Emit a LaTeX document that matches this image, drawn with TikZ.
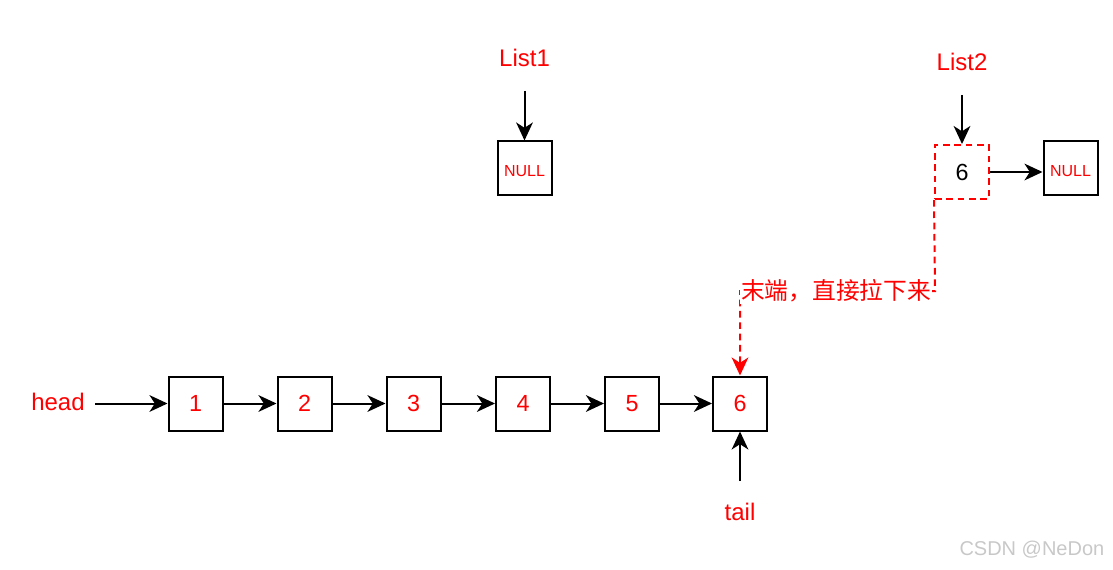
\documentclass[tikz,border=0pt]{standalone}
\usepackage{fontspec}
\setmainfont{Liberation Sans}
\newfontfamily\cjk{Noto Sans CJK SC}
\usetikzlibrary{arrows.meta}
\definecolor{myred}{RGB}{255,0,0}
\definecolor{wm}{RGB}{200,200,200}
\begin{document}
\begin{tikzpicture}[x=0.75pt,y=-0.75pt,
  cell/.style={draw=black,line width=1.5pt,minimum size=40.5pt,inner sep=0pt,text=myred,font=\fontsize{17.5}{20}\selectfont},
  nullcell/.style={cell,font=\fontsize{12}{14}\selectfont},
  dcell/.style={draw=myred,dashed,dash pattern=on 5pt off 3.5pt,line width=1.5pt,minimum size=40.5pt,inner sep=0pt,text=black,font=\fontsize{17.5}{20}\selectfont},
  lbl/.style={text=myred,font=\fontsize{18}{20}\selectfont,inner sep=1pt},
  arr/.style={line width=1.5pt,-{Stealth[length=13.5pt,width=12.5pt,inset=4pt]}},
  darr/.style={draw=myred,line width=1.5pt,dash pattern=on 5pt off 3.5pt,-{Stealth[length=13.5pt,width=12.5pt,inset=4pt]}}]
\useasboundingbox (0,0) rectangle (1113,570);
% main list
\node[cell] (n1) at (195.5,403.5) {1};
\node[cell] (n2) at (304.5,403.5) {2};
\node[cell] (n3) at (413.5,403.5) {3};
\node[cell] (n4) at (523,403.5) {4};
\node[cell] (n5) at (632,403.5) {5};
\node[cell] (n6) at (740,403.5) {6};
\foreach \a/\b in {n1/n2,n2/n3,n3/n4,n4/n5,n5/n6}
  \draw[arr] (\a) -- (\b);
\node[lbl] (head) at (58,402) {head};
\coordinate (hs) at (95,403.5);
\draw[arr] (hs) -- (n1.west);
\node[lbl] (tail) at (740,512) {tail};
\coordinate (ts) at (740,481);
\draw[arr] (ts) -- (n6.south);
% List1
\node[lbl] (l1) at (524.5,58) {List1};
\node[nullcell] (null1) at (524.5,168.5) {\raisebox{-5.8pt}[0pt][0pt]{NULL}};
\coordinate (l1s) at (524.5,91);
\draw[arr] (l1s) -- (null1.north);
% List2
\node[lbl] (l2) at (962,62) {List2};
\node[dcell] (m6) at (962,172) {6};
\node[nullcell] (null2) at (1070.5,168.5) {\raisebox{-5.8pt}[0pt][0pt]{NULL}};
\coordinate (l2s) at (962,95);
\draw[arr] (l2s) -- (m6.north);
\draw[arr] (m6.east) -- (m6.east -| null2.west);
% dashed connector
\coordinate (c1) at (935,291);
\coordinate (c2) at (740,291);
\draw[darr] (m6.south west) -- (c1) -- (c2) -- (n6.north);
\node[fill=white,text=myred,font=\cjk\fontsize{17.8}{20}\selectfont,inner sep=1pt] (note) at (836,291) {末端，直接拉下来};
% watermark
\node[text=wm,font=\fontsize{15}{17}\selectfont,anchor=east] (wmk) at (1109,550) {CSDN @NeDon};
\end{tikzpicture}
\end{document}
